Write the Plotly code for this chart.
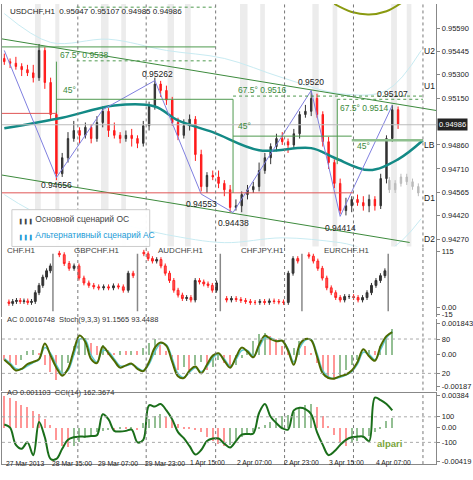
import plotly.graph_objects as go

# ---------------- data ----------------
closes = [0.9538,0.9537,0.9535,0.9533,0.9531,0.9528,0.9545,0.9525,0.9505,0.9468,0.9478,0.9490,0.9495,0.9492,
          0.9497,0.9490,0.9500,0.9507,0.9495,0.9492,0.9490,0.9492,0.9490,0.9487,0.9498,0.9510,0.9524,0.9520,
          0.9514,0.9500,0.9492,0.9498,0.9502,0.9480,0.9460,0.9467,0.9466,0.9462,0.9458,0.9447,0.9448,0.9455,
          0.9458,0.9460,0.9470,0.9478,0.9485,0.9490,0.9488,0.9486,0.9493,0.9505,0.9507,0.9515,0.9505,0.9488,
          0.9475,0.9462,0.9445,0.9448,0.9452,0.9450,0.9448,0.9452,0.9448,0.9465,0.9490,0.9508,0.9499]
wick_up = [3,2,4,2,3,5,4,2,3,2,3,4,6,2,3,2,4,3,2,5,2,3,4,2,3,3,4,2,3,2,3,4,3,2,3,2,3,4,2,3,4,2,3,3,
           5,3,2,3,4,2,3,2,4,5,3,2,3,2,3,5,2,3,4,3,2,3,2,3,2]
wick_dn = [2,3,2,4,2,3,2,4,3,4,2,3,2,5,2,3,2,3,4,2,3,2,5,3,2,3,2,4,3,2,3,2,3,4,3,4,2,3,4,3,2,4,3,2,
           3,2,4,3,2,5,2,3,2,3,2,3,4,3,2,3,4,2,3,4,3,2,3,2,3]
forecast = [0.9458,0.9462,0.9466,0.9463,0.9460,0.9456]

ma_x = [0, 10, 19, 26, 30, 36, 44, 53, 57, 63, 68, 72.3]
ma_y = [0.94964, 0.9503, 0.95106, 0.95100, 0.95013, 0.9494, 0.94827, 0.9484, 0.9478, 0.94703, 0.94770, 0.94889]
upper_ch = [0.95522, 0.95075]
lower_ch = [0.94672, 0.94251]
env_x = [0, 8, 18, 28, 38, 48, 58, 66, 72]
env_hi = [0.9568, 0.9550, 0.9552, 0.9545, 0.9540, 0.9528, 0.9518, 0.9520, 0.9545]
env_lo = [0.9455, 0.9440, 0.9438, 0.9430, 0.9425, 0.9428, 0.9425, 0.9420, 0.9440]
olive_x = [57, 60, 63, 66, 68.5]
olive_y = [0.95740, 0.95690, 0.95675, 0.95695, 0.95745]

price_ticks = [0.95590, 0.95445, 0.95300, 0.95150, 0.94860, 0.94710, 0.94565, 0.94420, 0.94270]
last_price = 0.94986
peaks = [("0.95262", 26.5, 0.9530), ("0.9520", 53, 0.9525), ("0.95107", 67, 0.9518),
         ("0.94656", 9, 0.9461), ("0.94553", 34, 0.9449), ("0.94438", 39.5, 0.9437), ("0.94414", 58, 0.9434)]
level_labels = [("U2", 0.95445), ("U1", 0.95230), ("LB", 0.94860), ("D1", 0.94530), ("D2", 0.94270)]

ac = [-0.3,-0.5,-0.6,-0.3,0.2,0.3,0.1,-0.6,-1.0,-1.5,-1.2,-0.5,0.5,0.9,1.0,0.7,0.5,0.6,0.3,0.1,0.2,0.2,
      0.25,0.2,0.4,0.7,0.9,0.6,0.2,-0.4,-0.9,-0.7,-0.9,-0.6,-0.4,-0.9,-0.7,-0.3,-0.5,-0.8,-0.6,-0.2,0.3,
      0.8,1.2,1.3,1.1,0.9,0.5,0.2,0.4,0.8,0.5,0.1,-0.5,-1.0,-1.4,-1.5,-1.2,-0.9,-0.6,-0.3,0.0,0.3,0.2,
      0.5,1.0,1.5]
stoch = [44,35,25,28,36,40,45,72,51,30,16,28,60,86,75,45,38,67,55,42,30,34,37,28,24,40,65,74,68,40,15,12,
         25,32,20,35,51,55,42,30,48,65,58,48,70,86,80,76,77,60,35,70,80,78,50,20,12,11,15,18,25,40,62,50,
         42,68,85,92]
stoch_sig = [46,38,28,27,33,39,44,65,55,35,20,25,52,80,78,52,40,60,58,45,33,33,36,30,25,36,58,72,70,46,
             20,13,22,30,23,32,47,54,45,33,44,60,60,50,65,82,82,77,77,63,40,64,78,79,55,25,14,11,13,17,
             23,36,57,53,44,62,82,93]
ao = [3.8,3.6,3.2,2.8,2.5,2.0,1.6,1.0,0.3,-1.5,-2.2,-2.4,-2.2,-1.8,-1.3,-1.0,-0.6,-0.4,-0.3,-0.3,-0.2,
      -0.2,-0.1,-0.3,0.6,1.0,1.4,1.6,1.3,0.9,0.4,-0.1,-0.2,-0.3,-0.6,-1.2,-1.6,-2.0,-2.3,-2.1,-1.5,-1.2,
      -0.8,-0.5,-0.2,0.3,0.7,1.1,1.4,1.5,1.9,2.4,2.7,2.9,2.5,1.4,0.2,-0.9,-1.7,-2.2,-1.9,-1.6,-1.3,-1.0,
      -0.6,-0.2,0.8,1.1]
cci = [40,15,-120,-150,-100,-200,60,-60,-230,-230,-150,-80,-60,-55,-55,-50,-45,120,80,-10,-15,-10,0,-100,
       -80,190,180,200,150,80,-20,-67,-130,-195,-160,-90,-70,-70,-110,-140,-90,-40,-35,-30,130,200,100,50,
       10,0,150,170,160,120,-20,-120,-200,-170,-120,-80,-60,-55,-55,-90,250,230,200,150]

mini_names = ["CHF.H1", "GBPCHF.H1", "AUDCHF.H1", "CHFJPY.H1", "EURCHF.H1"]
mini_series = [
    [8,12,14,12,13,10,12,30,45,62,75,85],
    [108,90,80,85,60,50,45,42,40,42,40,44,42,35,70,65],
    [110,100,95,98,85,70,55,35,25,18,20,15,55,52,48,45,35,50],
    [15,18,16,14,12,10,10,12,10,13,12,11,10,70,100,95],
    [105,95,80,60,40,30,20,15,22,22,20,15,20,30,45,55,65,75],
]
mini_start = [0.2, 8.9, 23.5, 37.8, 52.0]
mini_sep = [8.4, 23.0, 37.3, 51.4, 66.3]

date_labels = ["27 Mar 2013", "28 Mar 15:00", "29 Mar 07:00", "29 Mar 23:00", "1 Apr 15:00",
               "2 Apr 07:00", "2 Apr 23:00", "3 Apr 15:00", "4 Apr 07:00"]
date_pos = [0, 7.9, 15.9, 23.9, 31.8, 39.9, 47.9, 55.8, 63.9]
day_seps = [12.7, 24.5, 36.5, 48.4, 60.3, 72.3]
shade = [(5.3, 6.3), (8.8, 9.5), (16.7, 18.0), (20.2, 21), (28.2, 29.3), (31.2, 32.2), (40.7, 42.0), (44.2, 45),
         (53.2, 54.3), (56.7, 57.5), (66.8, 67.8), (69.5, 70.3)]

# ---------------- build ----------------
N = len(closes)
xs = list(range(N))
opens = [closes[0] + 0.0002] + closes[:-1]
highs = [max(o, c) + w * 0.0001 for o, c, w in zip(opens, closes, wick_up)]
lows = [min(o, c) - w * 0.0001 for o, c, w in zip(opens, closes, wick_dn)]

FONT = "Liberation Sans"
fig = go.Figure()
XR = [-0.4, 74.6]
XD = [2/473, 440/473]

for a, b in shade:
    fig.add_shape(type="rect", xref="x", yref="y", x0=a, x1=b, y0=0.9422, y1=0.9574,
                  fillcolor="#ececec", line_width=0, layer="below")

fig.add_trace(go.Scatter(x=env_x, y=env_hi, mode="lines", line=dict(color="#c8ebf2", width=1, shape="spline"), xaxis="x", yaxis="y"))
fig.add_trace(go.Scatter(x=env_x, y=env_lo, mode="lines", line=dict(color="#c8ebf2", width=1, shape="spline"), xaxis="x", yaxis="y"))
fig.add_trace(go.Scatter(x=olive_x, y=olive_y, mode="lines", line=dict(color="#8a9a10", width=2, shape="spline"), xaxis="x", yaxis="y"))
fig.add_trace(go.Scatter(x=[XR[0], XR[1]], y=upper_ch, mode="lines", line=dict(color="#3c8a3c", width=1), xaxis="x", yaxis="y"))
fig.add_trace(go.Scatter(x=[XR[0], 70], y=lower_ch, mode="lines", line=dict(color="#3c8a3c", width=1), xaxis="x", yaxis="y"))

def hline(x0, x1, y, color, dash="solid", w=1):
    fig.add_shape(type="line", xref="x", yref="y", x0=x0, x1=x1, y0=y, y1=y, line=dict(color=color, width=w, dash=dash))
def vline(x, y0, y1, color, w=1):
    fig.add_shape(type="line", xref="x", yref="y", x0=x, x1=x, y0=y0, y1=y1, line=dict(color=color, width=w))

hline(XR[0], 36.5, 0.95472, "#4f9a4f")
hline(XR[0], 9, 0.95057, "#e05555")
hline(XR[0], 60.3, 0.94561, "#e05555")
hline(9, 39.5, 0.95145, "#4f9a4f"); vline(9, 0.95060, 0.95380, "#4f9a4f")
vline(39.5, 0.94561, 0.95145, "#4f9a4f")
hline(39.5, 60, 0.94915, "#4f9a4f"); vline(57.5, 0.94740, 0.95145, "#4f9a4f")
hline(60, 72.3, 0.94890, "#8fc08f", w=2.5)
hline(12.5, 36.5, 0.95720, "#4f9a4f", "dot"); hline(12.5, 36.5, 0.95385, "#4f9a4f", "dot")
hline(39.5, 72.3, 0.95165, "#4f9a4f", "dot"); hline(57.5, 72.3, 0.95145, "#4f9a4f", "dot")
hline(XR[0], XR[1], last_price, "#bbbbbb")

for d in day_seps:
    for ya, (lo, hi) in zip(["y", "y2", "y3", "y5"], [(0.9422, 0.9574), (-20, 125), (-0.0021, 0.0021), (-0.0045, 0.0042)]):
        fig.add_shape(type="line", xref="x", yref=ya, x0=d, x1=d, y0=lo, y1=hi,
                      line=dict(color="#777", width=1, dash="dot"))

fig.add_trace(go.Scatter(x=ma_x, y=ma_y, mode="lines", line=dict(color="#138a86", width=2.5, shape="spline"), xaxis="x", yaxis="y"))
zz_x = [0, 9, 17, 26, 34, 39.5, 53, 58, 67]
zz_y = [0.9545, 0.94656, 0.9508, 0.95262, 0.94553, 0.94438, 0.9520, 0.94414, 0.95107]
fig.add_trace(go.Scatter(x=zz_x, y=zz_y, mode="lines", line=dict(color="#8080e0", width=1), xaxis="x", yaxis="y"))
fig.add_trace(go.Candlestick(x=xs, open=opens, high=highs, low=lows, close=closes, xaxis="x", yaxis="y",
                             increasing=dict(line=dict(color="#333", width=1), fillcolor="#333"),
                             decreasing=dict(line=dict(color="#ff1a1a", width=1), fillcolor="#ff1a1a"),
                             whiskerwidth=0))
fx = list(range(N - 3, N - 3 + len(forecast)))
fo = [closes[N - 4] - 0.0001] + forecast[:-1]
fig.add_trace(go.Candlestick(x=[v + 0.5 for v in fx], open=fo, close=forecast,
                             high=[max(a, b) + 0.0002 for a, b in zip(fo, forecast)],
                             low=[min(a, b) - 0.0002 for a, b in zip(fo, forecast)], xaxis="x", yaxis="y",
                             increasing=dict(line=dict(color="#bbb", width=1), fillcolor="#bbb"),
                             decreasing=dict(line=dict(color="#bbb", width=1), fillcolor="#bbb"), whiskerwidth=0))

# mini panel
for k, (name, ser, st) in enumerate(zip(mini_names, mini_series, mini_start)):
    if k == 0:
        step = (mini_sep[0] - 0.6) / len(ser)
    else:
        step = (mini_sep[k] - mini_sep[k - 1] - 1.0) / len(ser)
    mx = [st + 0.6 + i * step for i in range(len(ser))]
    mo = [ser[0] + 3] + ser[:-1]
    fig.add_trace(go.Candlestick(x=mx, open=mo, close=ser, high=[max(a, b) + 5 for a, b in zip(mo, ser)],
                                 low=[min(a, b) - 5 for a, b in zip(mo, ser)], xaxis="x", yaxis="y2",
                                 increasing=dict(line=dict(color="#333", width=1), fillcolor="#333"),
                                 decreasing=dict(line=dict(color="#ff2020", width=1), fillcolor="#ff6060"),
                                 whiskerwidth=0))
    fig.add_annotation(x=(st + mini_sep[k]) / 2 if k > 0 else 0.1, y=117, xref="x", yref="y2", text=name,
                       showarrow=False, xanchor="center" if k > 0 else "left", font=dict(size=8, color="#444", family=FONT))
for sp in mini_sep:
    fig.add_shape(type="line", xref="x", yref="y2", x0=sp, x1=sp, y0=-8, y1=110, line=dict(color="#888", width=1.5))

# AC / stoch
ac_col = ["#3a8a3a" if i > 0 and ac[i] > ac[i - 1] else "#ff4040" for i in range(len(ac))]
fig.add_trace(go.Bar(x=xs[:len(ac)], y=[v * 0.001 for v in ac], marker=dict(color=ac_col, opacity=0.55, line_width=0),
                     width=0.25, xaxis="x", yaxis="y3"))
fig.add_trace(go.Scatter(x=xs[:len(stoch_sig)], y=stoch_sig, mode="lines", line=dict(color="#5cc8d0", width=1.5, shape="spline"), xaxis="x", yaxis="y4"))
fig.add_trace(go.Scatter(x=xs[:len(stoch)], y=stoch, mode="lines", line=dict(color="#4d6a00", width=2, shape="spline"), xaxis="x", yaxis="y4"))
for lv in [80, 20]:
    fig.add_shape(type="line", xref="x", yref="y4", x0=XR[0], x1=XR[1], y0=lv, y1=lv, line=dict(color="#aaa", width=1, dash="dot"))

# AO / CCI
ao_col = ["#3a8a3a" if i > 0 and ao[i] > ao[i - 1] else "#ff4040" for i in range(len(ao))]
fig.add_trace(go.Bar(x=xs[:len(ao)], y=[v * 0.001 for v in ao], marker=dict(color=ao_col, opacity=0.55, line_width=0),
                     width=0.25, xaxis="x", yaxis="y5"))
fig.add_trace(go.Scatter(x=xs[:len(cci)], y=cci, mode="lines", line=dict(color="#1a6e1a", width=2, shape="spline"), xaxis="x", yaxis="y6"))
for lv in [100, -100]:
    fig.add_shape(type="line", xref="x", yref="y6", x0=XR[0], x1=XR[1], y0=lv, y1=lv, line=dict(color="#aaa", width=1, dash="dot"))

# annotations main
def ann(x, y, t, color="#222", xa="center", yref="y", size=8.5, **k):
    fig.add_annotation(x=x, y=y, xref="x", yref=yref, text=t, showarrow=False, xanchor=xa,
                       font=dict(size=size, color=color, family=FONT), **k)
for t, x, y in peaks:
    ann(x, y, t)
ann(9.2, 0.95420, "67.5° 0.9538", "#3c8a3c", "left")
ann(9.8, 0.95200, "45°", "#3c8a3c", "left")
ann(40, 0.95205, "67.5° 0.9516", "#3c8a3c", "left")
ann(40, 0.94980, "45°", "#3c8a3c", "left")
ann(57.6, 0.95090, "67.5° 0.9514", "#3c8a3c", "left")
ann(60.5, 0.94855, "45°", "#3c8a3c", "left")
ann(-0.8, 0.95090, "5° 0.9506", "#e03030", "left")
ann(-0.8, 0.94600, "0° 0.9457", "#e03030", "left")
ann(0.6, 0.95690, "USDCHF,H1  0.95047 0.95107 0.94985 0.94986", "#222", "left", size=8)
for t, y in level_labels:
    fig.add_annotation(x=426/473, y=y, xref="paper", yref="y", text=t, showarrow=False, xanchor="left",
                       font=dict(size=8.5, color="#222", family=FONT))
fig.add_annotation(x=441/473, y=last_price, xref="paper", yref="y", text="0.94986", showarrow=False,
                   xanchor="left", bgcolor="#222", font=dict(size=7.5, color="white", family=FONT), borderpad=1)
# legend box
fig.add_shape(type="rect", xref="paper", yref="paper", x0=12/473, x1=151/473, y0=1-247/480, y1=1-210/480,
              fillcolor="rgba(255,255,255,0.95)", line=dict(color="#ccc", width=1))
fig.add_annotation(x=16/473, y=1-220/480, xref="paper", yref="paper", text="<b>╻╻╻</b> Основной сценарий ОС", showarrow=False,
                   xanchor="left", font=dict(size=8.5, color="#444", family=FONT))
fig.add_annotation(x=16/473, y=1-236/480, xref="paper", yref="paper", text="<b>╻╻╻</b> Альтернативный сценарий АС", showarrow=False,
                   xanchor="left", font=dict(size=8.5, color="#1a9ad6", family=FONT))
# panel titles
fig.add_annotation(x=5/473, y=1-327/480, xref="paper", yref="paper", text="AC 0.0016748  Stoch(9,3,3) 91.1565 93.4488",
                   showarrow=False, xanchor="left", font=dict(size=7.5, color="#333", family=FONT))
fig.add_annotation(x=5/473, y=1-400/480, xref="paper", yref="paper", text="AO 0.001103  CCI(14) 162.3674",
                   showarrow=False, xanchor="left", font=dict(size=7.5, color="#333", family=FONT))
fig.add_annotation(x=378/473, y=1-453/480, xref="paper", yref="paper", text="<b>alpari</b>", showarrow=False,
                   xanchor="left", font=dict(size=9.5, color="#7aa53a", family=FONT), bgcolor="rgba(255,255,255,0.8)")
for t, p in zip(date_labels, date_pos):
    fig.add_annotation(x=p, y=1-471/480, xref="x", yref="paper", text=t, showarrow=False, xanchor="left",
                       font=dict(size=6.8, color="#222", family=FONT))

axcommon = dict(showgrid=False, zeroline=False, showline=True, mirror=True, linecolor="#888", linewidth=1,
                ticks="outside", ticklen=3, tickcolor="#888", tickfont=dict(size=7.5, color="#222", family=FONT))
fig.update_layout(
    width=473, height=480, margin=dict(l=0, r=0, t=0, b=0), paper_bgcolor="white", plot_bgcolor="white",
    showlegend=False, bargap=0,
    xaxis=dict(domain=XD, range=XR, showticklabels=False, rangeslider=dict(visible=False), anchor="y5",
               **{k: v for k, v in axcommon.items() if k not in ("ticks",)}, ticks=""),
    yaxis=dict(domain=[1-248/480, 1-3/480], range=[0.9422, 0.9574], side="right", tickvals=price_ticks,
               ticktext=[f"{v:.5f}" for v in price_ticks], anchor="x", **axcommon),
    yaxis2=dict(domain=[1-318/480, 1-247/480], range=[-20, 125], side="right", tickvals=[115, 0, -15],
                ticktext=["115", "0.00", "-15"], anchor="x", **axcommon),
    yaxis3=dict(domain=[1-392/480, 1-320/480], range=[-0.0021, 0.0021], side="right",
                tickvals=[0.001843, 0, -0.001875], ticktext=["0.001843", "0.00", "-0.00187"], anchor="x", **axcommon),
    yaxis4=dict(domain=[1-392/480, 1-320/480], range=[-10, 115], overlaying="y3", side="right",
                tickvals=[80, 20], ticktext=["80", "20"], anchor="x", **axcommon),
    yaxis5=dict(domain=[1-466/480, 1-394/480], range=[-0.0045, 0.0042], side="right",
                tickvals=[0.003844, 0, -0.004191], ticktext=["0.00384", "0.00", "-0.00419"], anchor="x", **axcommon),
    yaxis6=dict(domain=[1-466/480, 1-394/480], range=[-270, 290], overlaying="y5", side="right",
                tickvals=[100, -100], ticktext=["100", "-100"], anchor="x", **axcommon),
)
fig.write_html("out.html", config={"displayModeBar": False},
               post_script="document.body.style.margin='0';document.body.style.overflow='hidden';")
